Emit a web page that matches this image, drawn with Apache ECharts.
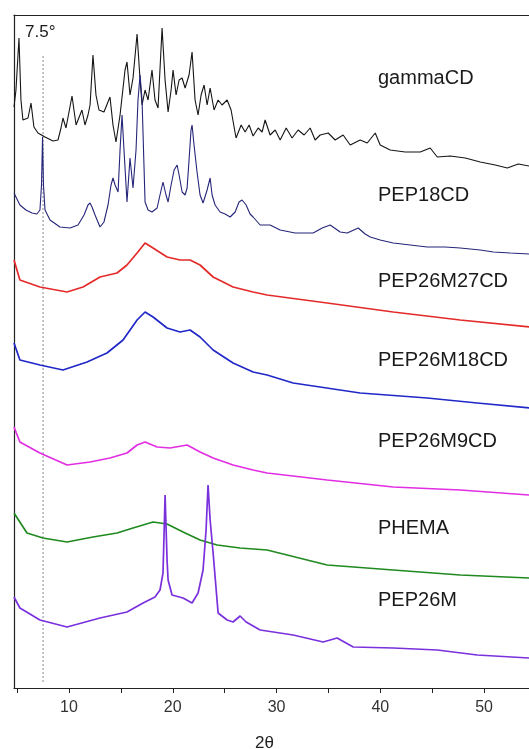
<!DOCTYPE html>
<html>
<head>
<meta charset="utf-8">
<script src="https://cdn.jsdelivr.net/npm/echarts@6/dist/echarts.min.js"></script>
<style>
html,body{margin:0;padding:0;background:#fff;}
#chart{width:529px;height:749px;}
</style>
</head>
<body>
<div id="chart"></div>
<script>
// 2θ (degrees) and stacked intensity (arbitrary units)
const seriesNames = ['gammaCD','PEP18CD','PEP26M27CD','PEP26M18CD','PEP26M9CD','PHEMA','PEP26M'];
const xTicks = [5,10,15,20,25,30,35,40,45,50];
const xLabels = [10,20,30,40,50];
const markerAngle = [[7.5,6],[7.5,633]];

const gammaCD = [[4.70,581],[4.89,598],[5.18,650],[5.37,588],[5.56,568],[6.05,570],[6.34,585],[6.62,561],[7.01,555],[7.69,551],[8.46,547],[8.94,548],[9.23,560],[9.42,570],[9.71,560],[10.29,592],[10.68,563],[11.25,578],[11.54,563],[11.83,573],[12.03,583],[12.31,633],[12.60,593],[12.89,578],[13.37,576],[13.95,591],[14.24,563],[14.53,546],[14.92,573],[15.40,618],[15.59,626],[15.88,593],[16.17,610],[16.56,654],[16.85,608],[17.04,583],[17.33,598],[17.62,588],[18.00,618],[18.29,588],[18.58,580],[18.97,660],[19.26,608],[19.55,576],[19.84,598],[20.03,618],[20.32,593],[20.61,608],[20.90,610],[21.19,600],[21.57,613],[21.86,636],[22.15,588],[22.44,573],[22.73,593],[23.02,603],[23.31,583],[23.60,600],[23.98,578],[24.37,588],[24.75,583],[25.24,588],[25.62,578],[26.10,550],[26.59,563],[26.97,556],[27.36,563],[27.74,552],[28.23,560],[28.61,556],[28.90,568],[29.38,553],[29.87,558],[30.35,548],[30.93,560],[31.50,550],[32.08,558],[32.66,553],[33.24,560],[33.72,548],[34.20,553],[34.98,555],[35.65,548],[36.42,553],[37.10,543],[38.06,548],[38.74,545],[39.51,555],[39.99,543],[40.95,538],[42.40,536],[43.85,536],[44.81,540],[45.49,531],[46.74,532],[48.19,530],[49.63,526],[51.08,523],[52.24,520],[53.30,524],[54.36,522]];

const pep18CD = [[4.70,495],[5.27,483],[5.85,478],[6.43,475],[6.91,474],[7.20,478],[7.35,503],[7.45,551],[7.54,503],[7.69,478],[8.17,468],[9.13,461],[10.10,460],[10.87,463],[11.45,473],[11.83,483],[12.03,485],[12.22,481],[12.51,473],[12.99,461],[13.37,466],[13.76,483],[14.05,503],[14.24,510],[14.44,503],[14.73,496],[14.92,538],[15.11,573],[15.30,538],[15.59,486],[15.88,530],[16.17,500],[16.46,538],[16.65,588],[16.85,613],[17.04,588],[17.33,486],[17.62,478],[18.00,476],[18.49,480],[18.77,493],[19.06,506],[19.35,493],[19.55,486],[19.84,503],[20.13,518],[20.42,523],[20.61,513],[20.90,496],[21.19,493],[21.38,500],[21.57,528],[21.76,558],[21.86,563],[22.05,543],[22.34,516],[22.63,493],[22.92,485],[23.11,483],[23.31,498],[23.60,510],[23.79,493],[24.08,483],[24.56,476],[25.04,474],[25.53,471],[26.01,476],[26.39,486],[26.68,488],[27.07,483],[27.45,474],[27.74,471],[28.42,463],[29.38,463],[30.35,458],[31.79,455],[33.53,455],[34.40,460],[35.17,463],[36.13,456],[36.81,455],[37.87,460],[38.54,454],[39.03,451],[39.99,448],[41.24,445],[42.88,443],[44.52,441],[46.26,441],[47.70,440],[49.63,438],[50.89,436],[52.53,435],[54.36,434]];

const pep26M27CD = [[4.70,428],[5.27,408],[7.20,401],[9.81,396],[11.35,401],[12.99,411],[14.63,415],[15.59,423],[16.56,435],[17.33,445],[18.10,440],[19.45,431],[20.70,428],[21.67,428],[22.63,423],[23.89,411],[25.81,401],[27.74,396],[29.09,393],[34.88,385],[41.24,376],[47.70,368],[54.36,361]];

const pep26M18CD = [[4.70,345],[5.27,328],[7.20,323],[9.42,318],[11.74,326],[13.66,335],[15.21,348],[16.56,368],[17.33,376],[18.10,371],[19.45,360],[20.70,356],[21.67,358],[22.63,351],[23.89,338],[25.81,325],[27.74,316],[29.09,313],[31.60,305],[38.06,295],[44.52,290],[49.34,285],[54.36,280]];

const pep26M9CD = [[4.70,261],[5.27,246],[7.20,235],[9.81,223],[12.03,226],[13.95,230],[15.59,235],[16.56,243],[17.33,246],[18.49,241],[19.74,240],[21.38,243],[22.63,236],[23.89,230],[25.81,223],[27.74,218],[29.09,215],[34.88,208],[41.24,201],[47.70,198],[54.36,193]];

const phema = [[4.70,175],[5.95,155],[7.49,150],[9.81,146],[12.31,151],[14.63,155],[16.17,160],[18.10,166],[19.45,164],[20.99,156],[22.63,148],[24.27,143],[26.49,140],[29.09,138],[34.88,123],[41.24,118],[47.70,113],[54.36,110]];

const pep26M = [[4.70,91],[5.27,80],[7.20,68],[9.81,61],[12.99,70],[15.59,76],[17.14,85],[18.29,91],[18.77,98],[19.06,115],[19.26,193],[19.45,128],[19.55,108],[19.93,93],[20.99,90],[21.86,85],[22.44,95],[22.92,118],[23.21,158],[23.40,203],[23.60,168],[23.89,135],[24.37,75],[25.24,68],[25.81,66],[26.49,72],[27.07,66],[28.42,58],[31.60,53],[34.49,46],[35.84,50],[37.39,41],[41.24,40],[45.49,38],[49.34,33],[54.36,30]];

const seriesData = [gammaCD, pep18CD, pep26M27CD, pep26M18CD, pep26M9CD, phema, pep26M];
const seriesColors = ['#151515','#25257a','#e52a2a','#2128c8','#e22ee2','#1f8a1f','#7a30dc'];

const FONT = 'Arial, "Liberation Sans", sans-serif';
const chart = echarts.init(document.getElementById('chart'), null, {renderer:'canvas'});

const series = seriesData.map((d, i) => ({
  name: seriesNames[i],
  type: 'line',
  data: d,
  showSymbol: false,
  symbol: 'none',
  smooth: false,
  lineStyle: {color: seriesColors[i], width: i < 2 ? 1.1 : 1.7},
  z: 3
}));
series.push({
  name: 'marker',
  type: 'line',
  data: markerAngle,
  symbol: 'none',
  lineStyle: {color: '#8a8a8a', width: 1, type: [2, 2]},
  z: 2
});

const labelLeft = 378;
const labelCenters = [80, 197, 283, 362, 443, 530, 602];
const graphics = seriesNames.map((n, i) => ({
  type: 'text',
  left: labelLeft,
  top: labelCenters[i] - 12,
  style: {text: n, font: '20px ' + FONT, fill: '#1a1a1a'}
}));
graphics.push({
  type: 'text', left: 25, top: 24,
  style: {text: '7.5°', font: '17px ' + FONT, fill: '#1a1a1a'}
});

const axisColor = '#222';
chart.setOption({
  animation: false,
  backgroundColor: '#fff',
  grid: {left: 14, right: 0, top: 15, bottom: 61, show: false, outerBoundsMode: 'none', containLabel: false},
  xAxis: [{
    type: 'value', min: 4.7, max: 54.33, position: 'bottom',
    name: '2θ', nameLocation: 'middle', nameGap: 47,
    nameTextStyle: {fontSize: 17, fontFamily: FONT, color: '#222', padding: [0, 14, 0, 0]},
    axisLine: {show: true, lineStyle: {color: axisColor, width: 1.2}},
    axisTick: {show: true, inside: false, length: 5, customValues: xTicks, lineStyle: {color: axisColor}},
    axisLabel: {customValues: xLabels, fontSize: 16, fontFamily: FONT, color: '#333', margin: 12},
    splitLine: {show: false}
  }, {
    type: 'value', min: 4.7, max: 54.33, position: 'top',
    axisLine: {show: true, lineStyle: {color: axisColor, width: 1.2}},
    axisTick: {show: false}, axisLabel: {show: false}, splitLine: {show: false}
  }],
  yAxis: {
    type: 'value', min: 0, max: 673, position: 'left',
    axisLine: {show: true, lineStyle: {color: axisColor, width: 1.2}},
    axisTick: {show: false}, axisLabel: {show: false}, splitLine: {show: false}
  },
  series: series,
  graphic: graphics
});
</script>
</body>
</html>
